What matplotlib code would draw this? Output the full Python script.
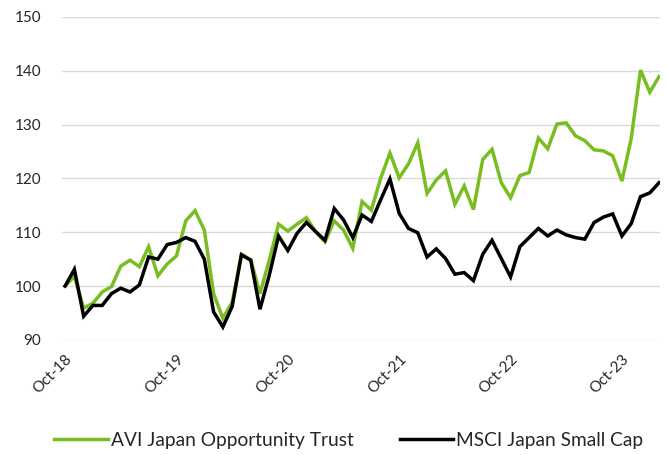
import matplotlib
matplotlib.use("Agg")
import matplotlib.pyplot as plt
import numpy as np

plt.rcParams["font.family"] = ["Lato", "DejaVu Sans"]

# monthly index values, Oct-18 .. Feb-24 (rebased to 100)
avi_japan = [
    100.0, 101.8, 95.9, 96.8, 98.9, 99.9, 103.7, 104.8, 103.6, 107.3,
    101.9, 104.1, 105.6, 112.1, 114.0, 110.4, 98.6, 94.0, 97.0, 105.9,
    104.9, 98.6, 104.8, 111.5, 110.2, 111.5, 112.7, 110.1, 108.2, 112.1,
    110.4, 107.0, 115.7, 114.1, 120.0, 124.7, 120.1, 122.7, 126.6, 117.2,
    119.7, 121.4, 115.2, 118.6, 114.2, 123.5, 125.4, 119.2, 116.4, 120.5,
    121.1, 127.5, 125.5, 130.1, 130.3, 127.9, 127.0, 125.3, 125.1, 124.2,
    119.5, 127.4, 140.1, 136.0, 138.9,
]
msci_small_cap = [
    100.0, 103.1, 94.4, 96.4, 96.4, 98.6, 99.6, 98.9, 100.2, 105.4,
    105.0, 107.7, 108.1, 109.0, 108.3, 105.0, 95.2, 92.4, 96.2, 105.8,
    104.8, 95.7, 102.0, 109.3, 106.6, 109.8, 111.8, 110.1, 108.5, 114.4,
    112.3, 109.0, 113.2, 112.0, 116.0, 119.9, 113.5, 110.7, 109.9, 105.4,
    106.9, 105.1, 102.2, 102.5, 101.0, 105.9, 108.5, 105.1, 101.7, 107.3,
    109.0, 110.7, 109.3, 110.4, 109.5, 109.0, 108.7, 111.8, 112.8, 113.4,
    109.3, 111.6, 116.6, 117.3, 119.2,
]
tick_labels = ["Oct-18", "Oct-19", "Oct-20", "Oct-21", "Oct-22", "Oct-23"]

months = np.arange(len(avi_japan))

fig = plt.figure(figsize=(6.68, 4.55), dpi=100)
ax = fig.add_axes([0.093, 0.253, 0.895, 0.71])

ax.plot(months, avi_japan, color="#78BE20", lw=2.5, label="AVI Japan Opportunity Trust",
        solid_joinstyle="miter")
ax.plot(months, msci_small_cap, color="#000000", lw=2.5, label="MSCI Japan Small Cap",
        solid_joinstyle="miter")

ax.set_ylim(90, 150)
ax.set_yticks(np.arange(90, 151, 10))
ax.set_xlim(-0.32, 64.1)
ax.set_xticks(np.arange(0, len(avi_japan), 12))
ax.set_xticklabels(tick_labels, rotation=45, ha="right", rotation_mode="anchor")

ax.grid(axis="y", color="#d9d9d9", lw=1)
ax.set_axisbelow(True)
for s in ax.spines.values():
    s.set_visible(False)
ax.tick_params(axis="both", length=0, labelsize=11, colors="#262626")
ax.tick_params(axis="x", pad=9)
ax.tick_params(axis="y", pad=15)

fig.legend(loc="lower center", ncol=2, frameon=False, fontsize=13.8, bbox_to_anchor=(0.522, -0.025),
           handlelength=2.8, handletextpad=0.15, columnspacing=2.4, labelcolor="#262626")

fig.savefig("out.png", dpi=100)
plt.close()
